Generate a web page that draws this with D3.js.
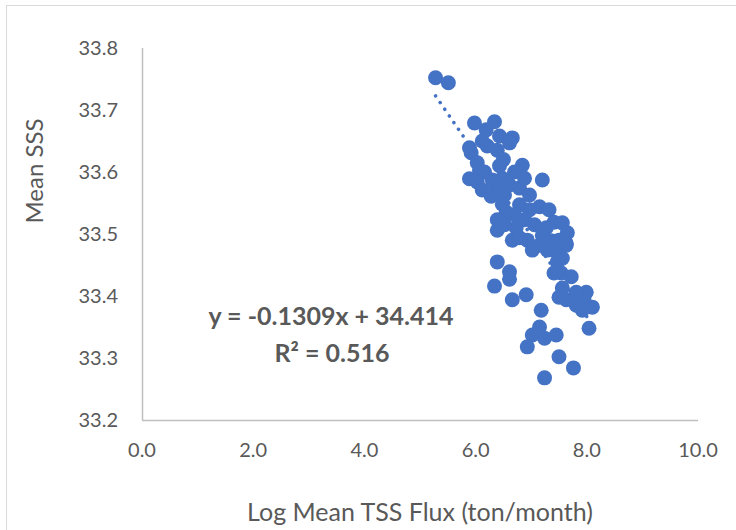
<!DOCTYPE html>
<html>
<head>
<meta charset="utf-8">
<script src="https://cdn.jsdelivr.net/npm/d3@7"></script>
<style>
  html, body { margin: 0; padding: 0; background: #fff; }
  svg { display: block; font-family: Lato, 'Noto Sans', sans-serif; }
</style>
</head>
<body>
<div id="chart"></div>
<script>
// Log mean TSS flux (ton/month)
const fluxValues = [
  5.28, 5.51, 5.98, 6.34, 6.19, 6.12, 6.43, 6.66, 5.89, 5.92,
  6.21, 6.39, 6.61, 6.03, 6.43, 6.84, 5.89, 6.12, 6.37, 6.61,
  6.79, 6.48, 7.20, 6.28, 6.48, 6.79, 6.55, 7.15, 7.32, 6.39,
  6.39, 6.73, 6.66, 6.93, 7.27, 7.41, 7.56, 7.36, 7.50, 7.65,
  7.63, 7.20, 7.02, 7.29, 6.39, 6.61, 6.61, 6.34, 7.47, 7.54,
  7.72, 7.41, 7.56, 7.99, 7.50, 6.66, 6.91, 7.18, 7.15, 7.02,
  6.93, 7.24, 7.45, 7.50, 7.76, 7.24, 8.04, 8.10, 7.95, 7.81,
  7.63, 7.92, 7.63, 7.56, 6.52, 6.07, 6.70, 6.88, 7.06, 6.16,
  6.30, 6.70, 6.97, 6.97, 6.52, 6.79, 7.15, 7.41, 6.03, 7.81,
  6.50, 6.88
]
// Mean SSS
const sssValues = [
  33.752, 33.744, 33.679, 33.681, 33.668, 33.650, 33.658, 33.655, 33.639, 33.631,
  33.642, 33.635, 33.647, 33.615, 33.610, 33.611, 33.589, 33.571, 33.577, 33.579,
  33.574, 33.590, 33.587, 33.561, 33.548, 33.547, 33.535, 33.544, 33.539, 33.523,
  33.506, 33.510, 33.490, 33.490, 33.510, 33.519, 33.518, 33.489, 33.490, 33.502,
  33.485, 33.498, 33.474, 33.474, 33.455, 33.439, 33.427, 33.416, 33.455, 33.437,
  33.431, 33.437, 33.413, 33.406, 33.398, 33.394, 33.402, 33.377, 33.350, 33.337,
  33.318, 33.332, 33.337, 33.302, 33.284, 33.268, 33.348, 33.382, 33.394, 33.385,
  33.394, 33.377, 33.482, 33.461, 33.563, 33.603, 33.531, 33.523, 33.515, 33.600,
  33.587, 33.600, 33.563, 33.539, 33.515, 33.494, 33.482, 33.474, 33.584, 33.406,
  33.620, 33.590
]

const xTicks = [0, 2, 4, 6, 8, 10]
const yTicks = [33.2, 33.3, 33.4, 33.5, 33.6, 33.7, 33.8]

// linear trendline reported on the chart
const slope = -0.1309
const intercept = 34.414
const equationLabel = 'y = -0.1309x + 34.414'
const r2Label = 'R² = 0.516'

const data = fluxValues.map((v, i) => ({ x: v, y: sssValues[i] }))

const W = 736
const H = 530
const textColor = '#595959'

const svg = d3.select('#chart')
  .append('svg')
  .attr('width', W)
  .attr('height', H)

// chart area border (runs off the right and bottom of the capture)
svg.append('rect')
  .attr('x', 6.5)
  .attr('y', 5.5)
  .attr('width', 800)
  .attr('height', 600)
  .attr('fill', '#fff')
  .attr('stroke', '#d9d9d9')
  .attr('stroke-width', 1)

const x = d3.scaleLinear().domain([0, 10]).range([142, 698])
const y = d3.scaleLinear().domain([33.2, 33.8]).range([420, 48])

// axis lines
svg.append('line')
  .attr('x1', x(0)).attr('x2', x(10))
  .attr('y1', y(33.2) + 0.5).attr('y2', y(33.2) + 0.5)
  .attr('stroke', '#bfbfbf').attr('stroke-width', 1.5)

svg.append('line')
  .attr('x1', x(0) + 0.5).attr('x2', x(0) + 0.5)
  .attr('y1', y(33.8)).attr('y2', y(33.2))
  .attr('stroke', '#bfbfbf').attr('stroke-width', 1.5)

// tick labels
svg.append('g')
  .selectAll('text')
  .data(yTicks)
  .join('text')
  .attr('x', 118)
  .attr('y', d => y(d))
  .attr('dy', '0.35em')
  .attr('text-anchor', 'end')
  .attr('fill', textColor)
  .style('font-size', '20px')
  .text(d => d.toFixed(1))

svg.append('g')
  .selectAll('text')
  .data(xTicks)
  .join('text')
  .attr('x', d => x(d))
  .attr('y', 450)
  .attr('dy', '0.35em')
  .attr('text-anchor', 'middle')
  .attr('fill', textColor)
  .style('font-size', '20px')
  .text(d => d.toFixed(1))

// axis titles
svg.append('text')
  .attr('x', 420)
  .attr('y', 512)
  .attr('dy', '0.35em')
  .attr('text-anchor', 'middle')
  .attr('fill', textColor)
  .style('font-size', '25px')
  .text('Log Mean TSS Flux (ton/month)')

svg.append('text')
  .attr('transform', 'translate(35,171) rotate(-90)')
  .attr('dy', '0.35em')
  .attr('text-anchor', 'middle')
  .attr('fill', textColor)
  .style('font-size', '24px')
  .text('Mean SSS')

// dotted trendline across the data range, beneath the markers
const [xMin, xMax] = d3.extent(fluxValues)
const trend = d3.line()
  .x(d => x(d))
  .y(d => y(slope * d + intercept))

svg.append('path')
  .datum([xMin, xMax])
  .attr('fill', 'none')
  .attr('stroke', '#4472c4')
  .attr('stroke-width', 3.5)
  .attr('stroke-linecap', 'round')
  .attr('stroke-dasharray', '0.1 8')
  .attr('d', trend)

svg.append('g')
  .selectAll('circle')
  .data(data)
  .join('circle')
  .attr('cx', d => x(d.x))
  .attr('cy', d => y(d.y))
  .attr('r', 7.5)
  .attr('fill', '#4472c4')

// equation label
svg.append('text')
  .attr('x', 331)
  .attr('y', 325)
  .attr('text-anchor', 'middle')
  .attr('fill', textColor)
  .style('font-size', '25px')
  .style('font-weight', 'bold')
  .text(equationLabel)

svg.append('text')
  .attr('x', 332)
  .attr('y', 362)
  .attr('text-anchor', 'middle')
  .attr('fill', textColor)
  .style('font-size', '25px')
  .style('font-weight', 'bold')
  .text(r2Label)
</script>
</body>
</html>
